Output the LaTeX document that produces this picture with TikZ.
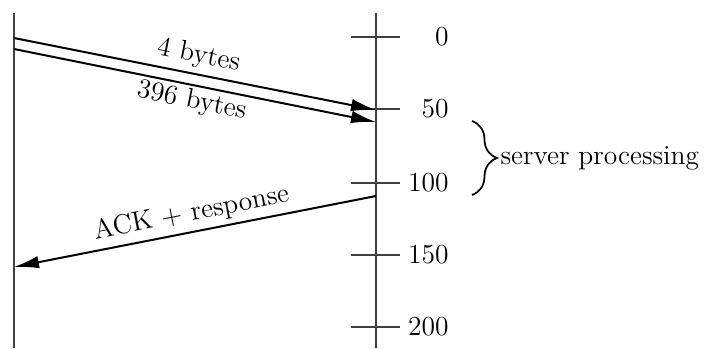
\documentclass[tikz,border=0pt]{standalone}
\usetikzlibrary{arrows.meta,decorations.pathreplacing}

\begin{document}
\begin{tikzpicture}[x=0.4pt,y=-0.4pt,font=\fontsize{11}{13}\selectfont,
  msg/.style={line width=0.8pt,-{Latex[length=10pt,width=5pt]}},
  axis/.style={line width=1.1pt,black!75}]
\useasboundingbox (0,0) rectangle (708,348);
\coordinate (C0) at (14,13); \coordinate (C1) at (14,348);
\coordinate (S0) at (376,13); \coordinate (S1) at (376,348);
\draw[axis] (C0)--(C1); \draw[axis] (S0)--(S1);
\foreach \t/\y in {0/37,50/109,100/183,150/255,200/327}{
  \coordinate (T\t a) at (351,\y); \coordinate (T\t b) at (400,\y);
  \draw[axis] (T\t a)--(T\t b);
  \node[anchor=east,inner sep=0pt] (L\t) at (449,\y) {\t};}
\coordinate (A1) at (14,38); \coordinate (B1) at (376,110);
\coordinate (A2) at (14,49); \coordinate (B2) at (376,122);
\coordinate (B3) at (376,196); \coordinate (A3) at (14,267);
\draw[msg] (A1)--(B1) node[midway,above,sloped,inner sep=2pt] (m1) {4 bytes};
\draw[msg] (A2)--(B2) node[midway,below,sloped,inner sep=1pt] (m2) {396 bytes};
\draw[msg] (B3)--(A3) node[midway,above,sloped,inner sep=2pt] (m3) {ACK + response};
\coordinate (P0) at (472,121); \coordinate (P1) at (472,195);
\draw[line width=0.7pt,decorate,decoration={brace,amplitude=10pt}] (P0)--(P1);
\node[anchor=west,inner sep=0pt] (proc) at (500,158) {server processing};
\end{tikzpicture}
\end{document}
